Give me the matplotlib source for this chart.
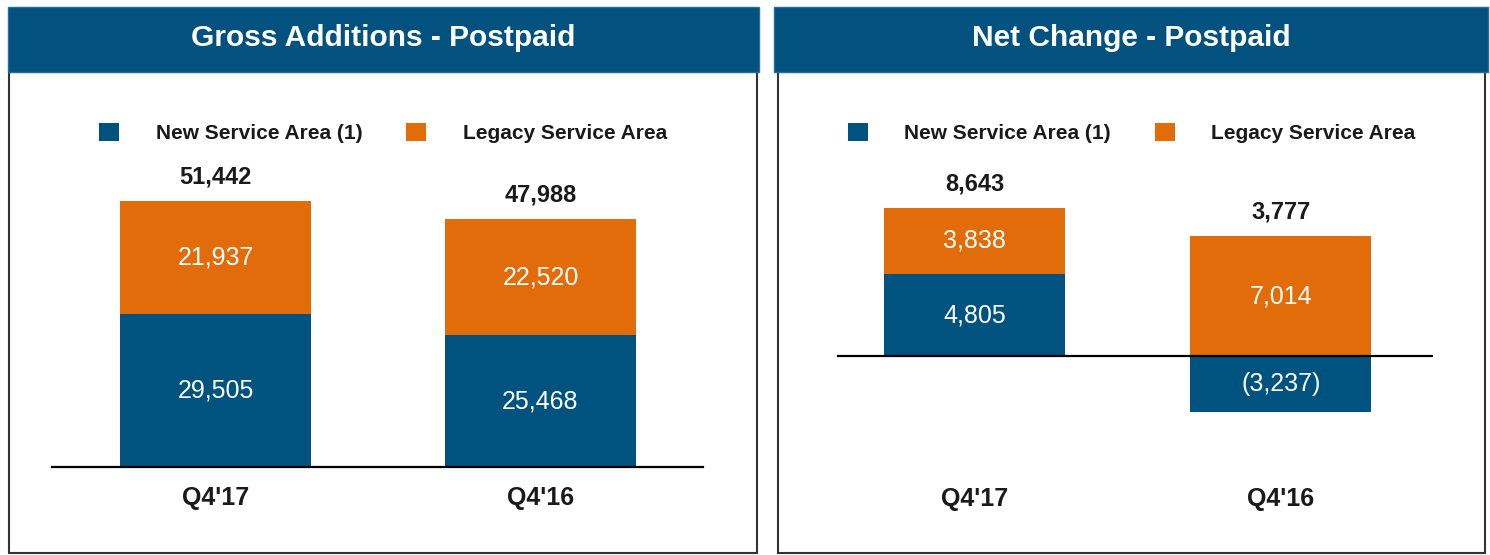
import matplotlib
matplotlib.use("Agg")
import matplotlib.pyplot as plt
from matplotlib.patches import Rectangle, Patch

# -----------------------------
# Data
# -----------------------------
quarters = ["Q4'17", "Q4'16"]
series_names = ["New Service Area (1)", "Legacy Service Area"]

gross_new = [29505, 25468]
gross_legacy = [21937, 22520]

net_new = [4805, -3237]
net_legacy = [3838, 7014]

panel_titles = ["Gross Additions - Postpaid", "Net Change - Postpaid"]

# -----------------------------
# Style
# -----------------------------
BLUE = "#00527f"
ORANGE = "#e36c0a"
HEADER = "#02517f"
TEXT = "#1a1a1a"
plt.rcParams["font.family"] = ["Liberation Sans", "DejaVu Sans"]

W, H = 1490, 555
fig = plt.figure(figsize=(W / 100, H / 100), dpi=100)


def fx(px):
    return px / W


def fy(py):
    return 1 - py / H


def fmt(v):
    return f"({abs(v):,})" if v < 0 else f"{v:,}"


# -----------------------------
# Panel frames and headers
# -----------------------------
panels = [
    dict(box=(9, 757), head=(8, 759)),
    dict(box=(778, 1485), head=(774, 1488)),
]
for p, title in zip(panels, panel_titles):
    x0, x1 = p["box"]
    fig.patches.append(Rectangle((fx(x0), fy(553)), fx(x1 - x0), (553 - 72) / H,
                                 transform=fig.transFigure, facecolor="white",
                                 edgecolor="#333333", lw=1.5, zorder=-2))
    h0, h1 = p["head"]
    fig.patches.append(Rectangle((fx(h0), fy(72)), fx(h1 - h0), 65 / H,
                                 transform=fig.transFigure, facecolor=HEADER,
                                 edgecolor="#1f6fa3", lw=1, zorder=-1))
    fig.text(fx((h0 + h1) / 2), fy(38), title, color="white", fontsize=21.5,
             fontweight="bold", ha="center", va="center", zorder=2)

    handles = [Patch(facecolor=BLUE), Patch(facecolor=ORANGE)]
    fig.legend(handles, series_names, loc="center",
               bbox_to_anchor=(fx((x0 + x1) / 2), fy(133)), ncol=2,
               frameon=False, prop=dict(size=15, weight="bold"),
               handlelength=0.96, handleheight=0.96, handletextpad=1.75,
               columnspacing=2.1, labelcolor=TEXT)


# -----------------------------
# Stacked bars
# -----------------------------
def draw(ax, new, legacy, xlim, width, tick_pad):
    x = range(len(quarters))
    ax.bar(x, new, width=width, color=BLUE, zorder=2)
    bottoms = [max(n, 0) for n in new]
    ax.bar(x, legacy, width=width, bottom=bottoms, color=ORANGE, zorder=2)
    ax.axhline(0, color="black", lw=1.6, zorder=3, clip_on=False)

    for i in x:
        ax.text(i, new[i] / 2, fmt(new[i]), color="white", fontsize=18,
                ha="center", va="center", zorder=4)
        ax.text(i, bottoms[i] + legacy[i] / 2, fmt(legacy[i]), color="white",
                fontsize=18, ha="center", va="center", zorder=4)
        total = new[i] + legacy[i]
        ax.annotate(fmt(total), (i, bottoms[i] + legacy[i]),
                    xytext=(0, 17), textcoords="offset points",
                    ha="center", va="center", fontsize=17,
                    fontweight="bold", color=TEXT, annotation_clip=False)

    lo = min(min(new), 0)
    hi = max(b + l for b, l in zip(bottoms, legacy))
    ax.set_ylim(lo, hi)
    ax.set_xlim(*xlim)
    ax.set_xticks(list(x))
    ax.set_xticklabels(quarters, fontsize=18, fontweight="bold", color=TEXT)
    ax.tick_params(axis="x", length=0, pad=tick_pad)
    ax.set_yticks([])
    for s in ax.spines.values():
        s.set_visible(False)
    ax.patch.set_alpha(0)


ax1 = fig.add_axes([fx(52), fy(467), (703 - 52) / W, (467 - 201) / H])
draw(ax1, gross_new, gross_legacy, (-0.503, 1.5), 0.588, 14)

ax2 = fig.add_axes([fx(838), fy(412), (1432 - 838) / W, (412 - 208) / H])
draw(ax2, net_new, net_legacy, (-0.445, 1.493), 0.59, 54)

for ax in (ax1, ax2):
    ax.set_zorder(3)

plt.savefig("out.png", dpi=100)
